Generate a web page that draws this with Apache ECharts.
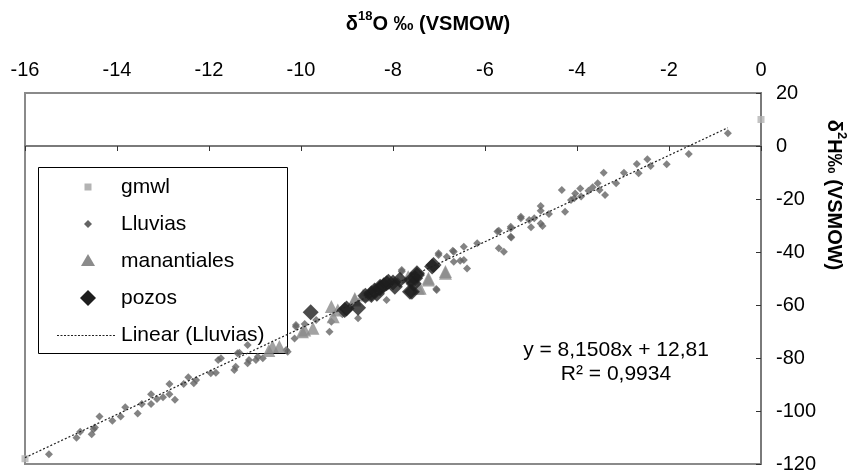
<!DOCTYPE html>
<html>
<head>
<meta charset="utf-8">
<script src="https://cdn.jsdelivr.net/npm/echarts@6/dist/echarts.min.js"></script>
<style>
html,body{margin:0;padding:0;background:#fff;}
#chart{width:848px;height:474px;}
</style>
</head>
<body>
<div id="chart"></div>
<script>
// ---- data ----
const xTicks = [-16, -14, -12, -10, -8, -6, -4, -2, 0];
const yTicks = [-120, -100, -80, -60, -40, -20, 0, 20];

const gmwl = [[0, 10], [-16, -118]];

const lluvias = [
  [-15.48,-116.3],[-14.88,-110.1],[-14.80,-107.8],[-14.55,-108.8],[-14.51,-106.9],[-14.48,-106.2],
  [-14.38,-102.1],[-14.10,-103.7],[-13.92,-102.1],[-13.82,-98.6],[-13.55,-100.9],[-13.46,-97.4],
  [-13.26,-93.7],[-13.26,-97.4],[-13.13,-95.5],[-13.00,-94.8],[-12.86,-93.7],[-12.86,-89.8],
  [-12.74,-95.8],[-12.55,-89.8],[-12.45,-87.3],[-12.33,-89.5],[-12.28,-88.3],[-11.96,-85.8],
  [-11.85,-85.6],[-11.80,-80.8],[-11.74,-80.1],[-11.45,-84.5],[-11.42,-83.3],[-11.38,-78.2],
  [-11.34,-78.0],[-11.16,-82.0],[-11.13,-80.8],[-10.98,-80.8],[-10.94,-79.5],[-10.83,-80.1],
  [-11.16,-75.1],[-10.32,-77.0],[-10.29,-77.6],[-10.14,-72.6],[-10.11,-68.2],[-10.11,-67.5],
  [-9.92,-67.2],[-9.67,-65.7],[-9.38,-70.1],[-9.34,-66.3],[-9.10,-63.5],[-8.90,-60.0],
  [-8.76,-65.0],[-8.60,-56.0],[-8.30,-55.0],[-8.14,-58.1],[-7.90,-51.0],[-7.81,-47.4],
  [-7.81,-46.8],[-7.05,-54.3],[-7.06,-54.0],[-7.01,-41.1],[-7.01,-40.5],[-6.83,-41.8],
  [-6.70,-39.5],[-6.68,-39.9],[-6.68,-43.7],[-6.54,-43.3],[-6.46,-38.0],[-6.46,-43.0],
  [-6.39,-46.2],[-6.17,-36.7],[-5.73,-32.3],[-5.70,-38.6],[-5.70,-32.0],[-5.59,-39.9],
  [-5.44,-34.2],[-5.44,-31.1],[-5.43,-34.5],[-5.44,-30.5],[-5.22,-27.3],[-5.22,-26.7],
  [-5.04,-27.9],[-5.00,-30.7],[-4.93,-27.3],[-4.79,-22.6],[-4.79,-24.4],[-4.79,-29.2],
  [-4.75,-30.2],[-4.61,-25.7],[-4.33,-16.6],[-4.26,-24.8],[-4.13,-20.4],[-4.06,-19.7],
  [-4.04,-17.9],[-3.93,-16.0],[-3.91,-19.1],[-3.75,-16.9],[-3.66,-15.6],[-3.55,-14.1],
  [-3.51,-16.6],[-3.42,-10.1],[-3.39,-18.5],[-3.15,-14.1],[-2.98,-10.1],[-2.70,-6.8],
  [-2.66,-10.3],[-2.47,-5.0],[-2.40,-7.5],[-2.05,-6.9],[-1.57,-3.0],[-0.72,4.8]
];

const manantiales = [
  [-10.70,-77.2],[-10.62,-75.7],[-10.47,-75.7],[-9.97,-70.1],[-9.92,-69.4],[-9.74,-68.8],
  [-9.34,-60.6],[-9.20,-61.9],[-9.30,-64.4],[-8.83,-57.5],[-8.83,-58.1],[-8.65,-56.2],
  [-7.67,-49.3],[-7.45,-53.7],[-7.41,-53.7],[-7.23,-50.6],[-7.23,-49.9],[-6.86,-47.4],
  [-6.86,-48.0]
];

const pozos = [
  [-9.79,-62.7],[-9.05,-61.9],[-9.01,-61.3],[-8.76,-61.0],[-8.60,-56.5],[-8.47,-56.2],
  [-8.47,-55.6],[-8.40,-54.5],[-8.35,-55.8],[-8.28,-53.7],[-8.28,-53.1],[-8.20,-52.5],
  [-8.14,-51.8],[-8.10,-51.2],[-8.00,-51.5],[-7.96,-53.1],[-7.85,-50.5],[-7.63,-55.0],
  [-7.59,-55.0],[-7.60,-50.5],[-7.55,-52.0],[-7.52,-49.9],[-7.48,-48.7],[-7.48,-48.0],
  [-7.15,-45.5],[-7.12,-44.9]
];

// trendline endpoints as drawn (y = 8,1508x + 12,81)
const trendLine = [[-16, -117.6], [-0.72, 6.9]];

const seriesNames = ['gmwl', 'Lluvias', 'manantiales', 'pozos', 'Linear (Lluvias)'];
const equationText = ['y = 8,1508x + 12,81', 'R² = 0,9934'];

// ---- chart ----
const chart = echarts.init(document.getElementById('chart'), null, {renderer: 'canvas'});
const FONT = '"Liberation Sans", Arial, sans-serif';
const TFONT = '"Liberation Sans", Arial, sans-serif';
const axisGray = '#7a7a7a';

const option = {
  animation: false,
  backgroundColor: '#ffffff',
  grid: {
    left: 25, right: 87, top: 93, bottom: 8,
    show: true, borderColor: '#8a8a8a', borderWidth: 2, backgroundColor: 'transparent'
  },
  xAxis: [
    {
      type: 'value', position: 'top', min: xTicks[0], max: xTicks[xTicks.length - 1], interval: 2,
      axisLine: {show: false, onZero: false},
      axisTick: {show: false},
      splitLine: {show: false},
      axisLabel: {color: '#000', fontFamily: FONT, fontSize: 20, margin: 13}
    },
    {
      type: 'value', position: 'bottom', min: xTicks[0], max: xTicks[xTicks.length - 1], interval: 2,
      axisLine: {show: true, onZero: true, lineStyle: {color: axisGray, width: 2}},
      axisTick: {show: true, inside: false, length: 5, lineStyle: {color: '#333', width: 1}},
      splitLine: {show: false},
      axisLabel: {show: false}
    }
  ],
  yAxis: {
    type: 'value', position: 'right', min: yTicks[0], max: yTicks[yTicks.length - 1], interval: 20,
    axisLine: {show: true, onZero: false, lineStyle: {color: axisGray, width: 2}},
    axisTick: {show: true, inside: true, length: 5, lineStyle: {color: '#333', width: 1}},
    splitLine: {show: false},
    axisLabel: {color: '#000', fontFamily: FONT, fontSize: 20, margin: 15}
  },
  series: [
    {
      name: seriesNames[0], type: 'scatter', data: gmwl, symbol: 'rect', symbolSize: 7,
      itemStyle: {color: '#b3b3b3'}, z: 2, clip: false
    },
    {
      name: seriesNames[1], type: 'scatter', data: lluvias, symbol: 'diamond', symbolSize: 8,
      itemStyle: {color: '#646464'}, z: 3
    },
    {
      name: seriesNames[2], type: 'scatter', data: manantiales, symbol: 'triangle', symbolSize: 13,
      itemStyle: {color: '#8b8b8b'}, z: 4
    },
    {
      name: seriesNames[3], type: 'scatter', data: pozos, symbol: 'diamond', symbolSize: 16,
      itemStyle: {color: '#1e1e1e'}, z: 5
    },
    {
      name: seriesNames[4], type: 'line', data: trendLine, symbol: 'none', showSymbol: false,
      lineStyle: {color: '#222', width: 1.2, type: [2, 2]}, z: 6, silent: true
    }
  ],
  graphic: [
    // x-axis title
    {
      type: 'text', x: 428, y: 22, z: 10,
      style: {
        text: '{b|δ}{s|18}{b|O ‰ (VSMOW)}',
        align: 'center', verticalAlign: 'middle',
        rich: {
          b: {fontFamily: TFONT, fontWeight: 'bold', fontSize: 20, fill: '#000', verticalAlign: 'bottom', lineHeight: 24},
          s: {fontFamily: TFONT, fontWeight: 'bold', fontSize: 13, fill: '#000', verticalAlign: 'top', lineHeight: 24}
        }
      }
    },
    // y-axis title (rotated)
    {
      type: 'text', x: 836, y: 195, rotation: -Math.PI / 2, z: 10,
      style: {
        text: '{b|δ}{s|2}{b|H‰ (VSMOW)}',
        align: 'center', verticalAlign: 'middle',
        rich: {
          b: {fontFamily: TFONT, fontWeight: 'bold', fontSize: 20, fill: '#000', verticalAlign: 'bottom', lineHeight: 24},
          s: {fontFamily: TFONT, fontWeight: 'bold', fontSize: 13, fill: '#000', verticalAlign: 'top', lineHeight: 24}
        }
      }
    },
    // regression equation
    {
      type: 'text', x: 616, y: 350, z: 10,
      style: {text: equationText[0], fontFamily: FONT, fontSize: 21, fill: '#000', align: 'center', verticalAlign: 'middle'}
    },
    {
      type: 'text', x: 616, y: 374, z: 10,
      style: {text: equationText[1], fontFamily: FONT, fontSize: 21, fill: '#000', align: 'center', verticalAlign: 'middle'}
    },
    // legend box
    {
      type: 'group', z: 20,
      children: [
        {type: 'rect', shape: {x: 38.5, y: 167.5, width: 249, height: 186}, style: {fill: '#fff', stroke: '#000', lineWidth: 1}},
        {type: 'rect', shape: {x: 84.5, y: 183.5, width: 7, height: 7}, style: {fill: '#b3b3b3'}},
        {type: 'polygon', shape: {points: [[88, 220], [92, 224], [88, 228], [84, 224]]}, style: {fill: '#646464'}},
        {type: 'polygon', shape: {points: [[88, 254], [95, 266], [81, 266]]}, style: {fill: '#8b8b8b'}},
        {type: 'polygon', shape: {points: [[88, 290], [96, 298], [88, 306], [80, 298]]}, style: {fill: '#1e1e1e'}},
        {type: 'line', shape: {x1: 57, y1: 335.5, x2: 115, y2: 335.5}, style: {stroke: '#222', lineWidth: 1, lineDash: [2, 1.5]}},
        {type: 'text', x: 121, y: 187, style: {text: seriesNames[0], fontFamily: FONT, fontSize: 21, fill: '#000', verticalAlign: 'middle'}},
        {type: 'text', x: 121, y: 224, style: {text: seriesNames[1], fontFamily: FONT, fontSize: 21, fill: '#000', verticalAlign: 'middle'}},
        {type: 'text', x: 121, y: 261, style: {text: seriesNames[2], fontFamily: FONT, fontSize: 21, fill: '#000', verticalAlign: 'middle'}},
        {type: 'text', x: 121, y: 298, style: {text: seriesNames[3], fontFamily: FONT, fontSize: 21, fill: '#000', verticalAlign: 'middle'}},
        {type: 'text', x: 121, y: 335, style: {text: seriesNames[4], fontFamily: FONT, fontSize: 21, fill: '#000', verticalAlign: 'middle'}}
      ]
    }
  ]
};
chart.setOption(option);
</script>
</body>
</html>
